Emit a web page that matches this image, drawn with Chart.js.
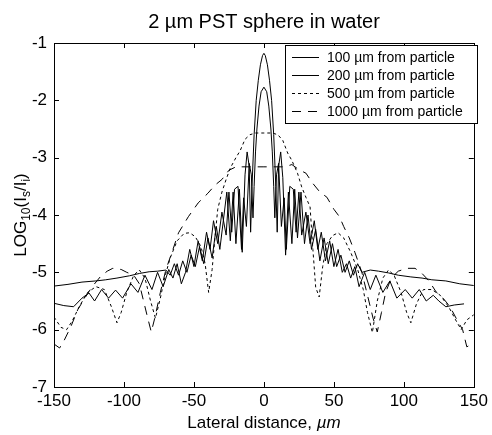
<!DOCTYPE html>
<html>
<head>
<meta charset="utf-8">
<script src="https://cdn.jsdelivr.net/npm/chart.js@4/dist/chart.umd.min.js"></script>
<style>
  html, body { margin: 0; padding: 0; background: #fff; }
  #wrap { width: 492px; height: 435px; }
</style>
</head>
<body>
<div id="wrap"><canvas id="c" width="492" height="435"></canvas></div>
<script>
// values (x in um, y = log10 of intensity ratio)
const x100 = [-150,-140,-130,-120,-113,-105,-96,-89,-82,-76,-70,-67,-64,-61,-58,-55,-52,-49,-46,-43,-40,-37,-34,-31.5,-29,-26.5,-24,-22,-20,-17.5,-15.5,-13.5,-12,-10.5,-9.5,-8.5,-7,-5.5,-4,-2.5,-1,0,1,2.5,4,5.5,7,8.5,9.5,10.5,12,13.5,15.5,17.5,20,22,24,26.5,29,31.5,34,37,40,43,46,49,52,55,58,61,64,67,70,76,82,89,96,105,113,120,130,140,150];
const y100 = [-5.24,-5.21,-5.17,-5.15,-5.13,-5.1,-5.06,-5.02,-4.99,-4.98,-4.96,-5.05,-4.85,-5.05,-4.8,-5.0,-4.7,-4.9,-4.55,-4.85,-4.4,-4.75,-4.2,-4.6,-4.1,-3.6,-4.45,-3.6,-4.5,-3.55,-4.65,-3.3,-2.9,-3.15,-4.3,-3.5,-2.6,-2.0,-1.65,-1.38,-1.22,-1.18,-1.22,-1.38,-1.65,-2.0,-2.6,-3.5,-4.3,-3.15,-2.9,-3.35,-4.7,-3.6,-4.5,-3.55,-4.4,-3.6,-4.5,-4.0,-4.6,-4.25,-4.8,-4.4,-4.85,-4.5,-4.9,-4.7,-5.0,-4.8,-5.05,-4.85,-5.0,-4.96,-4.98,-5.01,-5.05,-5.08,-5.1,-5.13,-5.15,-5.2,-5.23,-5.24];

const x200 = [-150,-143,-136,-130,-125,-121,-116,-111,-106,-101,-95,-90,-85,-80,-76,-72,-68,-65,-62,-59,-56,-53,-50,-47,-44,-41,-38.5,-36,-33,-30,-27,-25,-23,-21,-18.5,-16,-14.5,-12.5,-10.5,-9,-7.8,-7,-6,-5,-3.5,-2,0,2,3.5,5,6,7,7.8,9,10.5,12.5,14.5,16,18.5,21,23,25,27,30,33,36,38.5,41,44,47,50,53,56,59,62,65,68,72,76,80,85,90,95,101,106,111,116,121,125,130,136,143,150];
const y200 = [-5.54,-5.58,-5.6,-5.45,-5.36,-5.5,-5.3,-5.45,-5.31,-5.45,-5.2,-5.35,-5.05,-5.3,-5.0,-5.25,-4.95,-5.1,-4.85,-5.2,-5.0,-4.6,-4.9,-4.45,-4.8,-4.3,-4.6,-4.1,-4.5,-3.95,-4.35,-3.6,-4.3,-3.55,-3.5,-4.6,-3.7,-4.2,-3.1,-3.3,-4.05,-3.5,-2.9,-2.5,-2.1,-1.85,-1.77,-1.85,-2.1,-2.5,-2.9,-3.5,-4.05,-3.3,-3.1,-4.2,-3.7,-4.6,-3.5,-3.55,-4.3,-3.6,-4.35,-3.95,-4.5,-4.1,-4.6,-4.3,-4.8,-4.45,-4.9,-4.6,-5.0,-4.85,-5.1,-4.9,-5.25,-5.0,-5.3,-5.05,-5.35,-5.15,-5.45,-5.3,-5.45,-5.3,-5.5,-5.4,-5.5,-5.6,-5.57,-5.55];

const x500 = [-150,-145,-141,-137,-132,-126,-120,-114,-109,-105,-102,-98,-93,-89,-85,-81,-77.5,-74,-71,-67,-62,-57,-53,-49,-45,-42,-39.5,-37,-35,-33,-30,-27,-24,-20,-17,-13.5,-10,-6,0,6,10,13.5,17,20,24,27,30,33,35,37,39.5,42,45,49,53,57,62,67,71,74,77.5,81,85,89,93,98,102,105,109,114,120,126,132,137,141,145,150];
const y500 = [-5.78,-5.96,-6.0,-5.85,-5.6,-5.35,-5.25,-5.3,-5.6,-5.88,-5.7,-5.35,-5.05,-4.96,-5.1,-5.5,-5.8,-5.45,-5.1,-4.75,-4.45,-4.32,-4.31,-4.38,-4.55,-4.85,-5.35,-4.95,-4.4,-3.9,-3.6,-3.38,-3.18,-3.0,-2.88,-2.68,-2.6,-2.57,-2.57,-2.57,-2.6,-2.7,-2.92,-3.05,-3.27,-3.51,-3.69,-3.86,-4.6,-5.26,-5.43,-4.9,-4.5,-4.36,-4.31,-4.4,-4.65,-4.95,-5.3,-5.7,-6.05,-5.5,-5.1,-4.96,-5.05,-5.35,-5.7,-5.88,-5.55,-5.3,-5.3,-5.4,-5.6,-5.83,-6.0,-5.83,-5.74];

const x1000 = [-150,-146,-143,-138,-133,-128,-123,-117,-112,-108,-102,-98,-93,-89,-86,-83,-80.5,-78,-74,-70,-65,-61,-57,-54,-47,-40,-35,-30,-25,-20,-15,0,15,20,25,30,35,40,45,50,54,57,61,65,70,74,78,81,84,87,91,96,102,108,113,118,123,128,133,138,142,145,150];
const y1000 = [-6.25,-6.32,-6.2,-5.95,-5.65,-5.45,-5.26,-5.08,-4.98,-4.93,-4.95,-5.0,-5.05,-5.2,-5.5,-5.8,-6.04,-5.8,-5.35,-4.95,-4.6,-4.31,-4.15,-4.03,-3.79,-3.62,-3.48,-3.38,-3.22,-3.16,-3.16,-3.16,-3.16,-3.12,-3.21,-3.27,-3.45,-3.6,-3.69,-3.9,-4.03,-4.2,-4.4,-4.65,-5.0,-5.4,-5.8,-6.04,-5.7,-5.35,-5.1,-4.98,-4.93,-4.93,-5.02,-5.15,-5.34,-5.45,-5.6,-5.83,-6.0,-6.3,-6.23];

const labels = ['100 \u00b5m from particle','200 \u00b5m from particle','500 \u00b5m from particle','1000 \u00b5m from particle'];
const dashes = [[], [], [3,3], [9,7]];
const xTicks = [-150,-100,-50,0,50,100,150];
const yTicks = [-7,-6,-5,-4,-3,-2,-1];

const FONT = '"Liberation Sans", Arial, sans-serif';

const toPts = (xs, ys) => xs.map((x, i) => ({ x: x, y: ys[i] }));

const mkSet = (i, xs, ys) => ({
    label: labels[i],
    data: toPts(xs, ys),
    borderColor: '#000',
    borderWidth: 1,
    borderDash: dashes[i],
    pointRadius: 0,
    tension: 0,
    fill: false
});

// box, inward ticks, title, axis titles and legend, drawn matlab style
const decor = {
    id: 'decor',
    afterDraw(chart) {
        const ctx = chart.ctx;
        const a = chart.chartArea;
        const xs = chart.scales.x, ys = chart.scales.y;
        ctx.save();
        ctx.strokeStyle = '#000';
        ctx.lineWidth = 1;
        ctx.strokeRect(Math.round(a.left) + 0.5, Math.round(a.top) + 0.5, Math.round(a.right - a.left), Math.round(a.bottom - a.top));
        ctx.beginPath();
        xTicks.forEach(v => {
            const px = Math.round(xs.getPixelForValue(v)) + 0.5;
            ctx.moveTo(px, a.bottom); ctx.lineTo(px, a.bottom - 5);
            ctx.moveTo(px, a.top); ctx.lineTo(px, a.top + 5);
        });
        yTicks.forEach(v => {
            const py = Math.round(ys.getPixelForValue(v)) + 0.5;
            ctx.moveTo(a.left, py); ctx.lineTo(a.left + 5, py);
            ctx.moveTo(a.right, py); ctx.lineTo(a.right - 5, py);
        });
        ctx.stroke();

        ctx.fillStyle = '#000';
        ctx.textAlign = 'center';
        ctx.textBaseline = 'alphabetic';
        ctx.font = '20px ' + FONT;
        ctx.fillText('2 \u00b5m PST sphere in water', 264, 28);

        // x title, unit in italics
        ctx.textAlign = 'left';
        const t1 = 'Lateral distance, ', t2 = '\u00b5m';
        ctx.font = '17px ' + FONT;
        const w1 = ctx.measureText(t1).width;
        ctx.font = 'italic 17px ' + FONT;
        const w2 = ctx.measureText(t2).width;
        let sx = 264 - (w1 + w2) / 2;
        ctx.font = '17px ' + FONT;
        ctx.fillText(t1, sx, 428);
        ctx.font = 'italic 17px ' + FONT;
        ctx.fillText(t2, sx + w1, 428);

        // y title with subscripts
        const parts = [['LOG', 0], ['10', 1], ['(I', 0], ['s', 1], ['/I', 0], ['i', 1], [')', 0]];
        const fn = s => (s ? '12px ' : '17px ') + FONT;
        let tw = 0;
        parts.forEach(p => { ctx.font = fn(p[1]); tw += ctx.measureText(p[0]).width; });
        ctx.translate(20, 215);
        ctx.rotate(-Math.PI / 2);
        let cx = -tw / 2;
        parts.forEach(p => {
            ctx.font = fn(p[1]);
            ctx.fillText(p[0], cx, p[1] ? 10 : 6);
            cx += ctx.measureText(p[0]).width;
        });
        ctx.setTransform(1, 0, 0, 1, 0, 0);

        // legend
        const lx = 285.5, ly = 45.5, lw = 192, lh = 78;
        ctx.fillStyle = '#fff';
        ctx.fillRect(lx, ly, lw, lh);
        ctx.strokeRect(lx, ly, lw, lh);
        const rows = [57, 75, 93, 111];
        ctx.font = '14px ' + FONT;
        ctx.textBaseline = 'middle';
        chart.data.datasets.forEach((ds, i) => {
            ctx.beginPath();
            ctx.setLineDash(ds.borderDash);
            ctx.moveTo(292, rows[i] + 0.5);
            ctx.lineTo(319, rows[i] + 0.5);
            ctx.stroke();
            ctx.setLineDash([]);
            ctx.fillStyle = '#000';
            ctx.fillText(ds.label, 327, rows[i] + 1);
        });
        ctx.restore();
    }
};

new Chart(document.getElementById('c'), {
    type: 'line',
    data: {
        datasets: [
            mkSet(0, x100, y100),
            mkSet(1, x200, y200),
            mkSet(2, x500, y500),
            mkSet(3, x1000, y1000)
        ]
    },
    options: {
        responsive: false,
        animation: false,
        layout: { padding: { left: 0, right: 14, top: 43, bottom: 0 } },
        plugins: {
            legend: { display: false },
            tooltip: { enabled: false },
            title: { display: false }
        },
        scales: {
            x: {
                type: 'linear',
                min: -150, max: 150,
                afterFit: s => { s.height = 48; },
                afterBuildTicks: s => { s.ticks = xTicks.map(v => ({ value: v })); },
                grid: { display: false, drawTicks: false },
                border: { display: false },
                ticks: { color: '#000', padding: 4, maxRotation: 0, font: { family: FONT, size: 17 } }
            },
            y: {
                min: -7, max: -1,
                afterFit: s => { s.width = 54; },
                afterBuildTicks: s => { s.ticks = yTicks.map(v => ({ value: v })); },
                grid: { display: false, drawTicks: false },
                border: { display: false },
                ticks: { color: '#000', padding: 7, font: { family: FONT, size: 17 } }
            }
        }
    },
    plugins: [decor]
});
</script>
</body>
</html>
